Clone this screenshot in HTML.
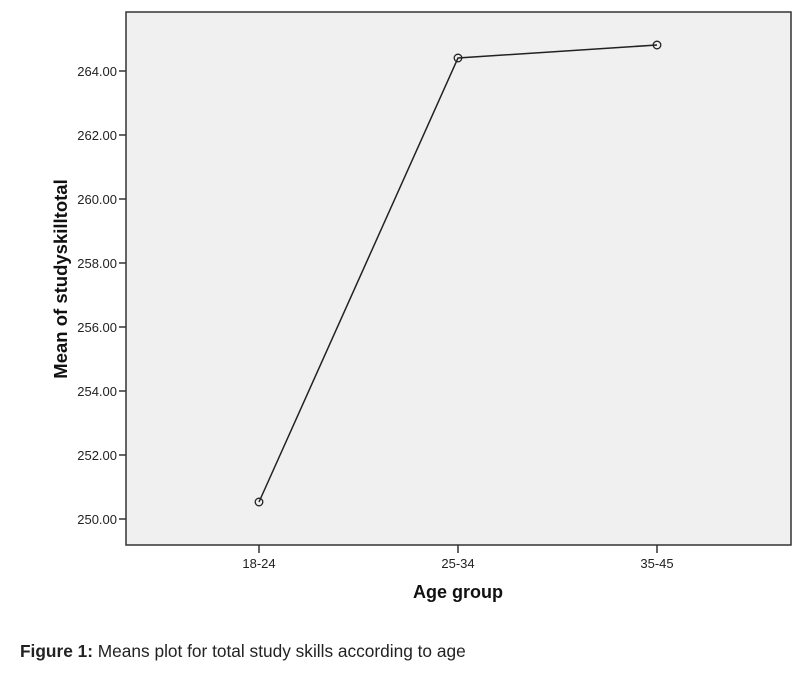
<!DOCTYPE html>
<html><head><style>body{margin:0;background:#fff}</style></head><body>
<svg width="799" height="669" xmlns="http://www.w3.org/2000/svg" font-family="Liberation Sans, sans-serif">
<rect x="126" y="12" width="665" height="533" fill="#f0f0f0" stroke="#333" stroke-width="1.5"/>
<g stroke="#333" stroke-width="1.5">
<line x1="119" y1="71" x2="126" y2="71"/><line x1="119" y1="135" x2="126" y2="135"/>
<line x1="119" y1="199" x2="126" y2="199"/><line x1="119" y1="263" x2="126" y2="263"/>
<line x1="119" y1="327" x2="126" y2="327"/><line x1="119" y1="391" x2="126" y2="391"/>
<line x1="119" y1="455" x2="126" y2="455"/><line x1="119" y1="519" x2="126" y2="519"/>
<line x1="259" y1="545" x2="259" y2="553"/><line x1="458" y1="545" x2="458" y2="553"/><line x1="657" y1="545" x2="657" y2="553"/>
</g>
<g font-size="13" fill="#222" text-anchor="end">
<text x="117" y="76">264.00</text><text x="117" y="140">262.00</text><text x="117" y="204">260.00</text>
<text x="117" y="268">258.00</text><text x="117" y="332">256.00</text><text x="117" y="396">254.00</text>
<text x="117" y="460">252.00</text><text x="117" y="524">250.00</text>
</g>
<g font-size="13" fill="#222" text-anchor="middle">
<text x="259" y="568">18-24</text><text x="458" y="568">25-34</text><text x="657" y="568">35-45</text>
</g>
<text x="458" y="598" font-size="18" font-weight="bold" text-anchor="middle" fill="#111">Age group</text>
<text transform="translate(67,279) rotate(-90)" font-size="18.5" font-weight="bold" text-anchor="middle" fill="#111">Mean of studyskilltotal</text>
<polyline points="259,502 458,58 657,45" fill="none" stroke="#222" stroke-width="1.5"/>
<g fill="none" stroke="#222" stroke-width="1.3">
<circle cx="259" cy="502" r="3.8"/><circle cx="458" cy="58" r="3.8"/><circle cx="657" cy="45" r="3.8"/>
</g>
<text x="20" y="657" font-size="17.3" fill="#222"><tspan font-weight="bold">Figure 1:</tspan> Means plot for total study skills according to age</text>
</svg>
</body></html>
